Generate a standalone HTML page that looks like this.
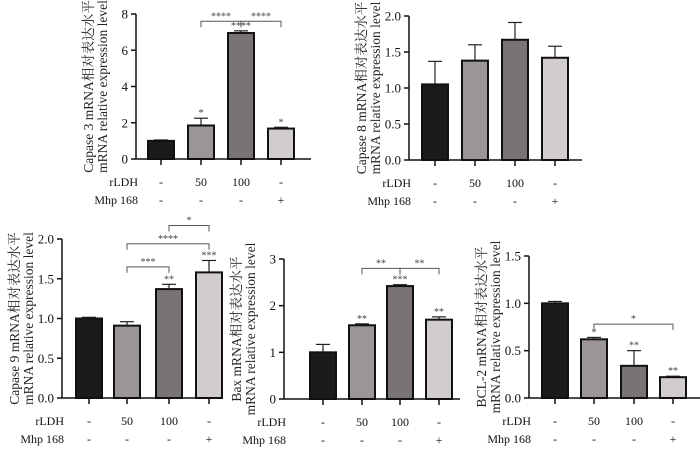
<!DOCTYPE html>
<html><head><meta charset="utf-8"><style>
body{margin:0;background:#fff;}
svg{display:block;font-family:"Liberation Serif","Noto Serif CJK SC",serif;}
</style></head><body>
<svg id="chart" width="700" height="453" viewBox="0 0 700 453"></svg>
<script>
const groups = ["ctrl","rLDH50","rLDH100","Mhp168"];
const rldhLabels = ["-","50","100","-"];
const mhpLabels = ["-","-","-","+"];
const colors = ["#1c1a1a","#9c9595","#7a7373","#d2cdcd"];

const casp3Values = [1.0, 1.85, 6.95, 1.68];
const casp3Errors = [0.05, 0.4, 0.12, 0.07];
const casp3Stars = ["", "*", "****", "*"];
const casp3Ticks = [0,2,4,6,8];

const casp8Values = [1.05, 1.38, 1.67, 1.42];
const casp8Errors = [0.32, 0.22, 0.24, 0.16];
const casp8Stars = ["", "", "", ""];
const casp8Ticks = ["0.0","0.5","1.0","1.5","2.0"];

const casp9Values = [1.0, 0.91, 1.37, 1.58];
const casp9Errors = [0.015, 0.05, 0.06, 0.15];
const casp9Stars = ["", "", "**", "***"];
const casp9Ticks = ["0.0","0.5","1.0","1.5","2.0"];

const baxValues = [1.0, 1.58, 2.42, 1.7];
const baxErrors = [0.17, 0.03, 0.03, 0.06];
const baxStars = ["", "**", "***", "**"];
const baxTicks = [0,1,2,3];

const bcl2Values = [1.0, 0.62, 0.34, 0.22];
const bcl2Errors = [0.02, 0.02, 0.16, 0.01];
const bcl2Stars = ["", "*", "**", "**"];
const bcl2Ticks = ["0.0","0.5","1.0","1.5"];

const svg = document.getElementById('chart');
const NS = "http://www.w3.org/2000/svg";
function el(tag, attrs, parent){
  const e = document.createElementNS(NS, tag);
  for (const k in attrs) e.setAttribute(k, attrs[k]);
  (parent||svg).appendChild(e);
  return e;
}
function txt(s, attrs, parent){ const t = el('text', attrs, parent); t.textContent = s; return t; }

function panel(cfg){
  const g = el('g', {});
  
  
  const ymax = Number(cfg.ticks[cfg.ticks.length-1]);
  const y = v => cfg.y0 - (v/ymax)*(cfg.y0-cfg.y1);
  const bw = 26;
  cfg.values.forEach((v,i)=>{
    const cx = cfg.xs[i];
    const top = y(v), err = y(v+cfg.errors[i]);
    const eb = el('line',{x1:cx,x2:cx,y1:top,y2:err,stroke:'#222','stroke-width':1.2},g);
    
    
    el('line',{x1:cx-7,x2:cx+7,y1:err,y2:err,stroke:'#222','stroke-width':1.2},g);
    const r = el('rect',{x:cx-bw/2,y:top,width:bw,height:cfg.y0-top,fill:colors[i],stroke:'#111','stroke-width':2},g);
    
    
    if (cfg.stars[i]) {
      const s = txt(cfg.stars[i],{x:cx,y:err-2,'text-anchor':'middle','font-size':10,fill:'#444'},g);
      
      
    }
    el('line',{x1:cx,x2:cx,y1:cfg.y0,y2:cfg.y0+6,stroke:'#111','stroke-width':1.5},g);
    txt(rldhLabels[i],{x:cx,y:cfg.y0+27,'text-anchor':'middle','font-size':12,fill:'#111'},g);
    txt(mhpLabels[i],{x:cx,y:cfg.y0+45,'text-anchor':'middle','font-size':12,fill:'#111'},g);
  });
  const ya = el('line',{x1:cfg.ax,x2:cfg.ax,y1:cfg.y1,y2:cfg.y0,stroke:'#111','stroke-width':1.5},g);
  
  
  const xa = el('line',{x1:cfg.ax,x2:cfg.xend,y1:cfg.y0,y2:cfg.y0,stroke:'#111','stroke-width':1.5},g);
  
  
  cfg.ticks.forEach(t=>{
    const ty = y(Number(t));
    el('line',{x1:cfg.ax-5,x2:cfg.ax,y1:ty,y2:ty,stroke:'#111','stroke-width':1.5},g);
    txt(String(t),{x:cfg.ax-8,y:ty+4.5,'text-anchor':'end','font-size':13,fill:'#111'},g);
  });
  const l1 = txt('rLDH',{x:cfg.ax+2,y:cfg.y0+27,'text-anchor':'end','font-size':12,fill:'#111'},g);
  
  
  const l2 = txt('Mhp 168',{x:cfg.ax+2,y:cfg.y0+45,'text-anchor':'end','font-size':12,fill:'#111'},g);
  
  
  const cy = (cfg.y0+cfg.y1)/2;
  const yt = el('text',{transform:`translate(${cfg.ax-43},${cy}) rotate(-90)`,'text-anchor':'middle','font-size':13.5,fill:'#222'},g);
  
  
  const t1 = el('tspan',{x:0,y:0},yt); t1.textContent = cfg.title;
  const t2 = el('tspan',{x:0,y:14},yt); t2.textContent = 'mRNA relative expression level';
  (cfg.brackets||[]).forEach(b=>{
    const by = y(b[2]);
    const xa1 = cfg.xs[b[0]], xb = cfg.xs[b[1]];
    const p = el('path',{d:`M${xa1},${by+6}V${by}H${xb}V${by+6}`,fill:'none',stroke:'#555','stroke-width':1},g);
    
    
    txt(b[3],{x:(xa1+xb)/2,y:by-2,'text-anchor':'middle','font-size':10,fill:'#444'},g);
  });
}

panel({name:'caspase3-panel',title:'Capase 3 mRNA相对表达水平',values:casp3Values,errors:casp3Errors,stars:casp3Stars,ticks:casp3Ticks,
  ax:136,xend:311,y0:159,y1:14,xs:[161,201,241,281],brackets:[[1,2,7.6,'****'],[2,3,7.6,'****']]});
panel({name:'caspase8-panel',title:'Capase 8 mRNA相对表达水平',values:casp8Values,errors:casp8Errors,stars:casp8Stars,ticks:casp8Ticks,
  ax:409,xend:582,y0:160,y1:16,xs:[435,475,515,555]});
panel({name:'caspase9-panel',title:'Capase 9 mRNA相对表达水平',values:casp9Values,errors:casp9Errors,stars:casp9Stars,ticks:casp9Ticks,
  ax:62,xend:222,y0:398,y1:239,xs:[89,127,169,209],brackets:[[1,2,1.65,'***'],[1,3,1.94,'****'],[2,3,2.17,'*']]});
panel({name:'bax-panel',title:'Bax mRNA相对表达水平',values:baxValues,errors:baxErrors,stars:baxStars,ticks:baxTicks,
  ax:284,xend:460,y0:399,y1:259,xs:[323,362,400,439],brackets:[[1,2,2.8,'**'],[2,3,2.8,'**']]});
panel({name:'bcl2-panel',title:'BCL-2 mRNA相对表达水平',values:bcl2Values,errors:bcl2Errors,stars:bcl2Stars,ticks:bcl2Ticks,
  ax:529,xend:700,y0:398,y1:256,xs:[555,594,634,673],brackets:[[1,3,0.78,'*']]});
</script>
</body></html>
